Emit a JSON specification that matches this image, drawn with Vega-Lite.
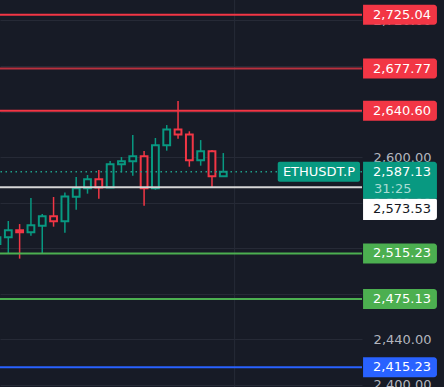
{
  "$schema": "https://vega.github.io/schema/vega-lite/v6.json",
  "width": 362,
  "height": 387,
  "autosize": {"type": "none"},
  "padding": {"left": 0, "top": 0, "right": 82, "bottom": 0},
  "background": "#171b26",
  "config": {
    "view": {"stroke": null},
    "font": "DejaVu Sans",
    "text": {"font": "DejaVu Sans"},
    "axisY": {"grid": true, "gridColor": "#262a36", "gridWidth": 1, "domain": false, "ticks": false, "labelAlign": "right", "labelPadding": 69, "labelColor": "#b2b5be", "labelFont": "DejaVu Sans", "labelFontSize": 13, "labelBound": false, "labelOverlap": false}
  },
  "datasets": {
    "candles": [
      {"t": 0, "open": 2523.5, "close": 2529.5, "high": 2531.0, "low": 2521.0},
      {"t": 1, "open": 2529.4, "close": 2535.6, "high": 2543.8, "low": 2515.4},
      {"t": 2, "open": 2535.6, "close": 2533.8, "high": 2541.1, "low": 2510.7},
      {"t": 3, "open": 2533.8, "close": 2540.0, "high": 2564.0, "low": 2530.9},
      {"t": 4, "open": 2539.7, "close": 2547.9, "high": 2549.9, "low": 2515.4},
      {"t": 5, "open": 2547.9, "close": 2543.5, "high": 2564.9, "low": 2538.8},
      {"t": 6, "open": 2543.5, "close": 2565.4, "high": 2568.9, "low": 2533.5},
      {"t": 7, "open": 2565.1, "close": 2572.5, "high": 2582.4, "low": 2553.7},
      {"t": 8, "open": 2572.5, "close": 2580.4, "high": 2584.2, "low": 2567.8},
      {"t": 9, "open": 2580.4, "close": 2573.3, "high": 2588.6, "low": 2563.4},
      {"t": 10, "open": 2573.3, "close": 2593.6, "high": 2596.5, "low": 2573.3},
      {"t": 11, "open": 2593.6, "close": 2596.2, "high": 2600.0, "low": 2586.5},
      {"t": 12, "open": 2596.2, "close": 2600.6, "high": 2619.3, "low": 2583.6},
      {"t": 13, "open": 2600.6, "close": 2572.5, "high": 2605.3, "low": 2557.2},
      {"t": 14, "open": 2572.5, "close": 2610.3, "high": 2616.7, "low": 2571.3},
      {"t": 15, "open": 2610.3, "close": 2624.3, "high": 2628.1, "low": 2605.6},
      {"t": 16, "open": 2624.3, "close": 2619.9, "high": 2649.2, "low": 2616.1},
      {"t": 17, "open": 2619.9, "close": 2597.1, "high": 2622.6, "low": 2591.5},
      {"t": 18, "open": 2597.1, "close": 2605.0, "high": 2614.9, "low": 2592.4},
      {"t": 19, "open": 2605.0, "close": 2583.0, "high": 2606.2, "low": 2573.0},
      {"t": 20, "open": 2583.0, "close": 2587.13, "high": 2603.5, "low": 2583.0}
    ],
    "levels": [
      {"price": 2725.04, "level": "R3"},
      {"price": 2677.77, "level": "R2"},
      {"price": 2640.60, "level": "R1"},
      {"price": 2573.53, "level": "mark"},
      {"price": 2515.23, "level": "S1"},
      {"price": 2475.13, "level": "S2"},
      {"price": 2415.23, "level": "S3"}
    ],
    "current": [{"price": 2587.13, "symbol": "ETHUSDT.P", "countdown": "31:25"}],
    "vgrid": [{"t": 21}]
  },
  "layer": [
    {
      "data": {"name": "vgrid"},
      "mark": {"type": "rule", "color": "#262a36", "strokeWidth": 1},
      "encoding": {
        "x": {"field": "t", "type": "quantitative", "scale": {"domain": [0.2665, 32.257], "nice": false, "zero": false}, "axis": null}
      }
    },
    {
      "data": {"name": "candles"},
      "mark": {"type": "rule", "strokeWidth": 1.5},
      "encoding": {
        "x": {"field": "t", "type": "quantitative", "scale": {"domain": [0.2665, 32.257], "nice": false, "zero": false}, "axis": null},
        "y": {"field": "low", "type": "quantitative", "scale": {"domain": [2397.9, 2738.0], "nice": false, "zero": false},
          "axis": {"orient": "right", "values": [2400, 2440, 2480, 2520, 2560, 2600, 2640, 2680, 2720], "format": ",.2f", "title": null}},
        "y2": {"field": "high"},
        "stroke": {"condition": {"test": "datum.close >= datum.open", "value": "#089981"}, "value": "#f23645"}
      }
    },
    {
      "data": {"name": "candles"},
      "mark": {"type": "rect", "xOffset": -3.4, "x2Offset": 3.4, "fill": "#171b26", "strokeWidth": 2},
      "encoding": {
        "x": {"field": "t", "type": "quantitative", "scale": {"domain": [0.2665, 32.257], "nice": false, "zero": false}, "axis": null},
        "x2": {"field": "t"},
        "y": {"field": "open", "type": "quantitative", "scale": {"domain": [2397.9, 2738.0], "nice": false, "zero": false},
          "axis": {"orient": "right", "values": [2400, 2440, 2480, 2520, 2560, 2600, 2640, 2680, 2720], "format": ",.2f", "title": null}},
        "y2": {"field": "close"},
        "stroke": {"condition": {"test": "datum.close >= datum.open", "value": "#089981"}, "value": "#f23645"}
      }
    },
    {
      "data": {"name": "current"},
      "mark": {"type": "rule", "strokeWidth": 1.5, "strokeDash": [1.5, 3.5], "color": "#1f9e88"},
      "encoding": {
        "y": {"field": "price", "type": "quantitative", "scale": {"domain": [2397.9, 2738.0], "nice": false, "zero": false},
          "axis": {"orient": "right", "values": [2400, 2440, 2480, 2520, 2560, 2600, 2640, 2680, 2720], "format": ",.2f", "title": null}}
      }
    },
    {
      "data": {"name": "levels"},
      "mark": {"type": "rule", "strokeWidth": 2},
      "encoding": {
        "y": {"field": "price", "type": "quantitative", "scale": {"domain": [2397.9, 2738.0], "nice": false, "zero": false},
          "axis": {"orient": "right", "values": [2400, 2440, 2480, 2520, 2560, 2600, 2640, 2680, 2720], "format": ",.2f", "title": null}},
        "stroke": {"field": "level", "type": "nominal", "legend": null,
          "scale": {"domain": ["R3", "R2", "R1", "mark", "S1", "S2", "S3"], "range": ["#f23645", "#b8313e", "#f23645", "#d6d6d6", "#4caf50", "#4caf50", "#2962ff"]}}
      }
    },
    {
      "data": {"name": "current"},
      "mark": {"type": "rect", "yOffset": -10, "y2Offset": 10, "fill": "#089981", "cornerRadius": 2},
      "encoding": {
        "x": {"datum": 24.81, "type": "quantitative", "scale": {"domain": [0.2665, 32.257], "nice": false, "zero": false}, "axis": null},
        "x2": {"datum": 32.08},
        "y": {"field": "price", "type": "quantitative", "scale": {"domain": [2397.9, 2738.0], "nice": false, "zero": false},
          "axis": {"orient": "right", "values": [2400, 2440, 2480, 2520, 2560, 2600, 2640, 2680, 2720], "format": ",.2f", "title": null}},
        "y2": {"field": "price"}
      }
    },
    {
      "data": {"name": "current"},
      "mark": {"type": "text", "align": "center", "baseline": "middle", "color": "#ffffff", "fontSize": 13, "font": "DejaVu Sans"},
      "encoding": {
        "x": {"datum": 28.45, "type": "quantitative", "scale": {"domain": [0.2665, 32.257], "nice": false, "zero": false}, "axis": null},
        "y": {"field": "price", "type": "quantitative", "scale": {"domain": [2397.9, 2738.0], "nice": false, "zero": false},
          "axis": {"orient": "right", "values": [2400, 2440, 2480, 2520, 2560, 2600, 2640, 2680, 2720], "format": ",.2f", "title": null}},
        "text": {"field": "symbol"}
      }
    },
    {
      "data": {"name": "levels"},
      "transform": [{"filter": "datum.level != 'mark'"}],
      "mark": {"type": "rect", "yOffset": -10, "y2Offset": 10, "cornerRadiusTopRight": 3, "cornerRadiusBottomRight": 3},
      "encoding": {
        "x": {"datum": 32.35, "type": "quantitative", "scale": {"domain": [0.2665, 32.257], "nice": false, "zero": false}, "axis": null},
        "x2": {"datum": 38.88},
        "y": {"field": "price", "type": "quantitative", "scale": {"domain": [2397.9, 2738.0], "nice": false, "zero": false},
          "axis": {"orient": "right", "values": [2400, 2440, 2480, 2520, 2560, 2600, 2640, 2680, 2720], "format": ",.2f", "title": null}},
        "y2": {"field": "price"},
        "fill": {"field": "level", "type": "nominal", "legend": null,
          "scale": {"domain": ["R3", "R2", "R1", "S1", "S2", "S3"], "range": ["#f23645", "#f23645", "#f23645", "#4caf50", "#4caf50", "#2962ff"]}}
      }
    },
    {
      "data": {"name": "levels"},
      "transform": [{"filter": "datum.level != 'mark'"}],
      "mark": {"type": "text", "align": "right", "baseline": "middle", "color": "#ffffff", "fontSize": 13, "font": "DejaVu Sans"},
      "encoding": {
        "x": {"datum": 38.35, "type": "quantitative", "scale": {"domain": [0.2665, 32.257], "nice": false, "zero": false}, "axis": null},
        "y": {"field": "price", "type": "quantitative", "scale": {"domain": [2397.9, 2738.0], "nice": false, "zero": false},
          "axis": {"orient": "right", "values": [2400, 2440, 2480, 2520, 2560, 2600, 2640, 2680, 2720], "format": ",.2f", "title": null}},
        "text": {"field": "price", "format": ",.2f"}
      }
    },
    {
      "data": {"name": "levels"},
      "transform": [{"filter": "datum.level == 'mark'"}],
      "mark": {"type": "rect", "yOffset": 11.4, "y2Offset": 32.9, "fill": "#ffffff", "cornerRadiusTopRight": 2, "cornerRadiusBottomRight": 3},
      "encoding": {
        "x": {"datum": 32.35, "type": "quantitative", "scale": {"domain": [0.2665, 32.257], "nice": false, "zero": false}, "axis": null},
        "x2": {"datum": 38.88},
        "y": {"field": "price", "type": "quantitative", "scale": {"domain": [2397.9, 2738.0], "nice": false, "zero": false},
          "axis": {"orient": "right", "values": [2400, 2440, 2480, 2520, 2560, 2600, 2640, 2680, 2720], "format": ",.2f", "title": null}},
        "y2": {"field": "price"}
      }
    },
    {
      "data": {"name": "levels"},
      "transform": [{"filter": "datum.level == 'mark'"}],
      "mark": {"type": "text", "align": "right", "baseline": "middle", "yOffset": 22, "color": "#131722", "fontSize": 13, "font": "DejaVu Sans"},
      "encoding": {
        "x": {"datum": 38.35, "type": "quantitative", "scale": {"domain": [0.2665, 32.257], "nice": false, "zero": false}, "axis": null},
        "y": {"field": "price", "type": "quantitative", "scale": {"domain": [2397.9, 2738.0], "nice": false, "zero": false},
          "axis": {"orient": "right", "values": [2400, 2440, 2480, 2520, 2560, 2600, 2640, 2680, 2720], "format": ",.2f", "title": null}},
        "text": {"field": "price", "format": ",.2f"}
      }
    },
    {
      "data": {"name": "current"},
      "mark": {"type": "rect", "yOffset": -10, "y2Offset": 27, "fill": "#089981", "cornerRadiusTopRight": 3},
      "encoding": {
        "x": {"datum": 32.35, "type": "quantitative", "scale": {"domain": [0.2665, 32.257], "nice": false, "zero": false}, "axis": null},
        "x2": {"datum": 38.88},
        "y": {"field": "price", "type": "quantitative", "scale": {"domain": [2397.9, 2738.0], "nice": false, "zero": false},
          "axis": {"orient": "right", "values": [2400, 2440, 2480, 2520, 2560, 2600, 2640, 2680, 2720], "format": ",.2f", "title": null}},
        "y2": {"field": "price"}
      }
    },
    {
      "data": {"name": "current"},
      "mark": {"type": "text", "align": "right", "baseline": "middle", "color": "#ffffff", "fontSize": 13, "font": "DejaVu Sans"},
      "encoding": {
        "x": {"datum": 38.35, "type": "quantitative", "scale": {"domain": [0.2665, 32.257], "nice": false, "zero": false}, "axis": null},
        "y": {"field": "price", "type": "quantitative", "scale": {"domain": [2397.9, 2738.0], "nice": false, "zero": false},
          "axis": {"orient": "right", "values": [2400, 2440, 2480, 2520, 2560, 2600, 2640, 2680, 2720], "format": ",.2f", "title": null}},
        "text": {"field": "price", "format": ",.2f"}
      }
    },
    {
      "data": {"name": "current"},
      "mark": {"type": "text", "align": "left", "baseline": "middle", "yOffset": 17, "color": "#a8dcd3", "fontSize": 13, "font": "DejaVu Sans"},
      "encoding": {
        "x": {"datum": 33.32, "type": "quantitative", "scale": {"domain": [0.2665, 32.257], "nice": false, "zero": false}, "axis": null},
        "y": {"field": "price", "type": "quantitative", "scale": {"domain": [2397.9, 2738.0], "nice": false, "zero": false},
          "axis": {"orient": "right", "values": [2400, 2440, 2480, 2520, 2560, 2600, 2640, 2680, 2720], "format": ",.2f", "title": null}},
        "text": {"field": "countdown"}
      }
    }
  ]
}
